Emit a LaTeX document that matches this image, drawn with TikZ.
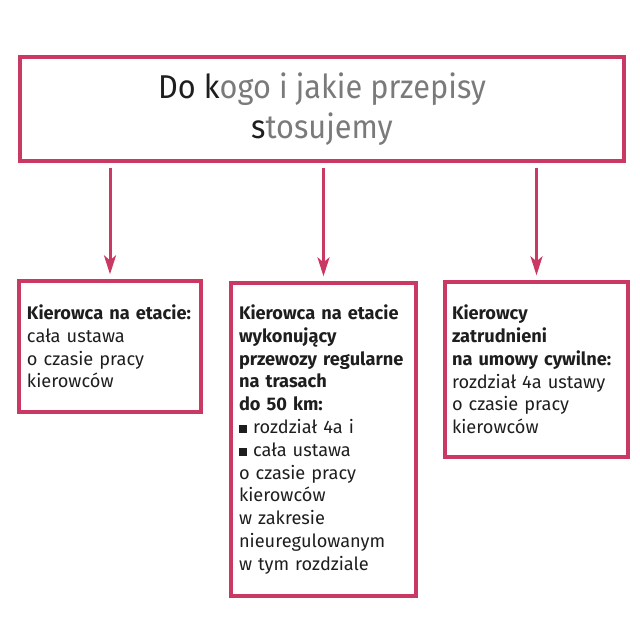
\documentclass[tikz,border=0pt]{standalone}
\usepackage{fontspec}
\setmainfont{Fira Sans}
\newfontfamily\titlefont[FakeStretch=0.93]{Fira Sans}
\usetikzlibrary{arrows.meta}
\definecolor{frame}{RGB}{202,56,100}
\definecolor{ink}{RGB}{30,30,30}
\definecolor{greyt}{RGB}{122,122,122}
\newcommand{\sqbul}{\rule[0.5pt]{8pt}{8pt}\ }
\tikzset{
  boxstyle/.style={draw=frame, line width=3.3pt, rectangle, align=left,
    font=\fontsize{18.2}{22.8}\selectfont, text=ink, inner ysep=0pt},
  arr/.style={draw=frame, line width=3pt, -{Stealth[length=19pt,width=12pt,inset=5pt]}},
}
\begin{document}
\begin{tikzpicture}[x=1pt,y=-1pt]
\useasboundingbox (0,0) rectangle (640,640);
\node[draw=frame, line width=3.3pt, minimum width=604pt, minimum height=104pt, inner sep=0pt,
  align=center, font=\titlefont\fontsize{33}{40}\selectfont, text=greyt]
  (top) at (322,109) {\textcolor{ink}{Do k}ogo i jakie przepisy\\\textcolor{ink}{s}tosujemy};
\node[boxstyle, text width=166pt, inner xsep=8pt, minimum height=131pt] (b1) at (110,346.5)
  {\textbf{Kierowca na etacie:}\\cała ustawa\\o czasie pracy\\kierowców};
\node[boxstyle, text width=169pt, inner xsep=8pt, minimum height=313pt] (b2) at (323.5,439.5)
  {\textbf{Kierowca na etacie}\\\textbf{wykonujący}\\\textbf{przewozy regularne}\\\textbf{na trasach}\\\textbf{do 50 km:}\\\sqbul rozdział 4a i\\\sqbul cała ustawa\\o czasie pracy\\kierowców\\w zakresie\\nieuregulowanym\\w tym rozdziale};
\node[boxstyle, text width=169pt, inner xsep=7pt, minimum height=175pt] (b3) at (536.5,369.5)
  {\textbf{Kierowcy}\\\textbf{zatrudnieni}\\\textbf{na umowy cywilne:}\\rozdział 4a ustawy\\o czasie pracy\\kierowców};
\draw[arr] ([yshift=-5pt]top.south -| b1.north) -- ([yshift=5pt]b1.north);
\draw[arr] ([yshift=-5pt]top.south -| b2.north) -- ([yshift=5pt]b2.north);
\draw[arr] ([yshift=-5pt]top.south -| b3.north) -- ([yshift=5pt]b3.north);
\end{tikzpicture}
\end{document}
